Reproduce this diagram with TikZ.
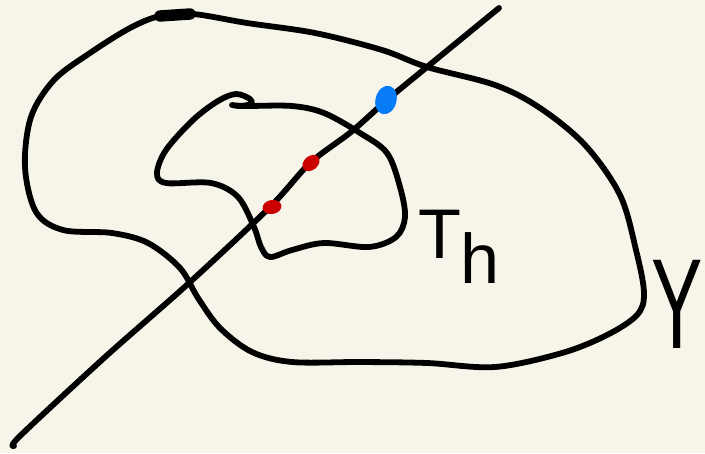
\documentclass[tikz,border=0pt]{standalone}
\usepackage{fontspec}
\setmainfont{Liberation Sans}
\usetikzlibrary{shapes.geometric}

\definecolor{paper}{RGB}{247,245,234}
\definecolor{dotblue}{RGB}{8,124,246}
\definecolor{dotred}{RGB}{204,0,0}

\tikzset{
    pen/.style={line width=3.3pt, line cap=round, line join=round},
    blob/.style={ellipse, inner sep=0pt, draw=none}
}

\begin{document}
\begin{tikzpicture}[x=0.02cm, y=-0.02cm]
    % Paper
    \fill[paper] (0,0) rectangle (705,453);
    \useasboundingbox (0,0) rectangle (705,453);

    % Outer curve Y
    \draw[pen] plot[smooth cycle, tension=0.55] coordinates {
        (193,14) (247,23) (315,33) (382,50) (427,67) (495,85) (540,108)
        (585,145) (620,195) (636,250) (644,293) (637,315) (607,335)
        (562,353) (495,367) (427,363) (360,362) (292,362) (252,352)
        (220,328) (198,298) (180,268) (148,243) (112,233) (63,230)
        (36,212) (25,167) (31,117) (54,80) (90,53) (130,28) (160,16)};
    \draw[line width=6.5pt, line cap=round] (160,16) -- (190,14);

    % Inner curve T_h
    \draw[pen] plot[smooth, tension=0.55] coordinates {
        (232,105) (246,106) (292,106) (324,113) (360,133) (387,153)
        (400,187) (405,217) (396,237) (369,247) (324,243) (292,250)
        (270,257) (261,247) (254,227) (238,197) (211,183) (166,183)
        (157,173) (166,150) (193,120) (218,101) (236,94) (250,99)
        (251,104) (240,106) (232,105)};

    % Straight line
    \draw[pen] plot[smooth, tension=0.5] coordinates {
        (14,446) (20,436) (104,358) (189,283) (270,207) (310,163)
        (351,132) (387,100) (427,67) (499,8)};

    % Points
    \node[blob, fill=dotblue, minimum width=0.58cm, minimum height=0.42cm,
          rotate=75] (pb) at (386,100) {};
    \node[blob, fill=dotred, minimum width=0.38cm, minimum height=0.28cm,
          rotate=40] (pr1) at (311,163) {};
    \node[blob, fill=dotred, minimum width=0.38cm, minimum height=0.28cm,
          rotate=10] (pr2) at (272,207) {};

    % Labels
    \node[font=\fontsize{40}{40}\selectfont, inner sep=0pt] (th) at (459,247)
        {T\raisebox{-0.35em}{h}};
    \node[font=\fontsize{73}{73}\selectfont, inner sep=0pt, xscale=0.6]
        (ylab) at (677,304) {Y};
\end{tikzpicture}
\end{document}
